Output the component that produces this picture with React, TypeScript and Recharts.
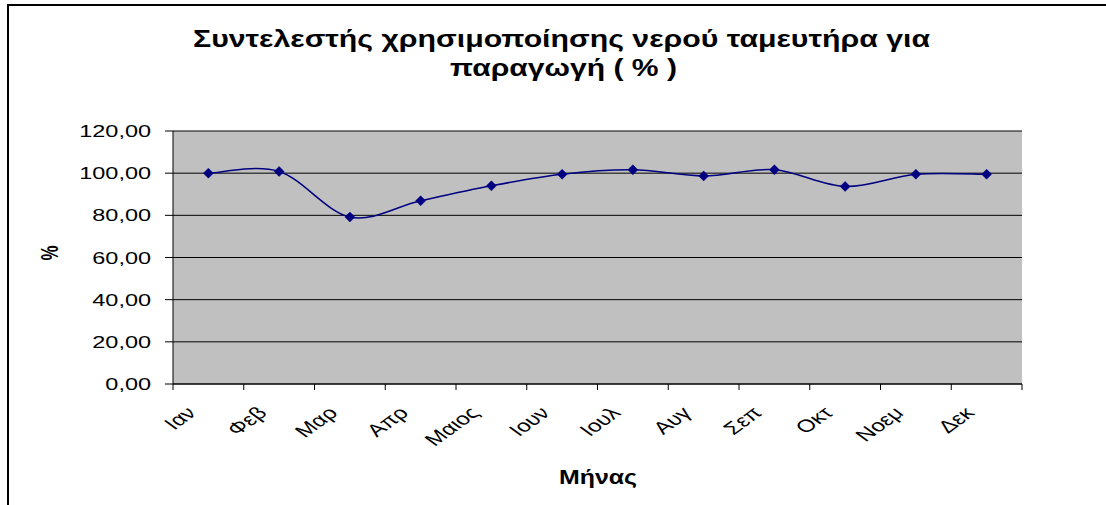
import React from 'react';
import { LineChart, Line, XAxis, YAxis, CartesianGrid } from 'recharts';

// ---- data ----
const months = ['Ιαν', 'Φεβ', 'Μαρ', 'Απρ', 'Μαιος', 'Ιουν', 'Ιουλ', 'Αυγ', 'Σεπ', 'Οκτ', 'Νοεμ', 'Δεκ'];
const utilisation = [100.0, 100.8, 79.2, 86.9, 94.0, 99.5, 101.6, 98.7, 101.6, 93.7, 99.5, 99.5];
const yTicks = [0, 20, 40, 60, 80, 100, 120];
const titleLines = ['Συντελεστής χρησιμοποίησης νερού ταμευτήρα για', 'παραγωγή ( % )'];
const xTitle = 'Μήνας';
const yTitle = '%';

const data = months.map((m, i) => ({ month: m, value: utilisation[i] }));

// ---- layout / style ----
const W = 1106;
const H = 505;
const PLOT_LEFT = 173;
const PLOT_RIGHT = 1022;
const PLOT_TOP = 131;
const PLOT_BOTTOM = 384;
const BAND = (PLOT_RIGHT - PLOT_LEFT) / months.length;
const FONT = '"Liberation Sans", Arial, sans-serif';
const SX = 1.38;
const NAVY = '#000080';

const fmt = (v: number) => v.toFixed(2).replace('.', ',');

// Excel-like smoothed line (Catmull-Rom through the points)
function excelSmooth(context: any) {
  let pts: number[][] = [];
  return {
    areaStart() {},
    areaEnd() {},
    lineStart() {
      pts = [];
    },
    point(x: number, y: number) {
      pts.push([+x, +y]);
    },
    lineEnd() {
      if (!pts.length) return;
      context.moveTo(pts[0][0], pts[0][1]);
      for (let i = 0; i < pts.length - 1; i++) {
        const p0 = pts[i - 1] || pts[i];
        const p1 = pts[i];
        const p2 = pts[i + 1];
        const p3 = pts[i + 2] || pts[i + 1];
        context.bezierCurveTo(
          p1[0] + (p2[0] - p0[0]) / 6,
          p1[1] + (p2[1] - p0[1]) / 6,
          p2[0] - (p3[0] - p1[0]) / 6,
          p2[1] - (p3[1] - p1[1]) / 6,
          p2[0],
          p2[1]
        );
      }
    },
  };
}

function XTick(props: any) {
  const { x, y, payload, index } = props;
  const left = x - BAND / 2;
  return (
    <g>
      <line x1={left} x2={left} y1={y} y2={y + 6} stroke="#000" strokeWidth={1} />
      {index === months.length - 1 && (
        <line x1={x + BAND / 2} x2={x + BAND / 2} y1={y} y2={y + 6} stroke="#000" strokeWidth={1} />
      )}
      <text
        transform={`translate(${x - 11},${y + 30}) scale(${SX},1) rotate(-45)`}
        textAnchor="end"
        fontSize={17.5}
        fontFamily={FONT}
        fill="#000"
      >
        {payload.value}
      </text>
    </g>
  );
}

function YTick(props: any) {
  const { x, y, payload } = props;
  return (
    <text
      transform={`translate(${x},${y}) scale(${SX},1)`}
      textAnchor="end"
      dy="0.36em"
      fontSize={17}
      fontFamily={FONT}
      fill="#000"
    >
      {fmt(payload.value)}
    </text>
  );
}

function Diamond(props: any) {
  const { cx, cy, index } = props;
  if (cx == null || cy == null) return <g key={`d${index}`} />;
  const r = 5;
  return (
    <polygon
      key={`d${index}`}
      points={`${cx},${cy - r} ${cx + r},${cy} ${cx},${cy + r} ${cx - r},${cy}`}
      fill={NAVY}
      stroke={NAVY}
      strokeWidth={0.5}
    />
  );
}

export default function App() {
  return (
    <div style={{ position: 'absolute', left: 0, top: 0, width: W, height: H, overflow: 'hidden', background: '#fff' }}>
      <div
        style={{
          position: 'absolute',
          left: 7,
          top: 4,
          width: 1200,
          height: 600,
          border: '2px solid #000',
          boxSizing: 'border-box',
        }}
      />
      <div style={{ position: 'absolute', left: 0, top: 0 }}>
        <LineChart
          width={W}
          height={H}
          data={data}
          margin={{ top: PLOT_TOP, right: W - PLOT_RIGHT, left: 0, bottom: 0 }}
        >
          <CartesianGrid vertical={false} stroke="#000" strokeWidth={1} fill="#C0C0C0" fillOpacity={1} />
          <XAxis
            dataKey="month"
            interval={0}
            height={H - PLOT_BOTTOM}
            padding={{ left: BAND / 2, right: BAND / 2 }}
            tickLine={false}
            tickSize={0}
            tickMargin={0}
            axisLine={{ stroke: '#000', strokeWidth: 1 }}
            tick={<XTick />}
          />
          <XAxis
            xAxisId="frameTop"
            dataKey="month"
            orientation="top"
            height={0}
            tick={false}
            tickLine={false}
            axisLine={{ stroke: '#808080', strokeWidth: 1.5 }}
          />
          <YAxis
            width={PLOT_LEFT}
            domain={[0, 120]}
            ticks={yTicks}
            interval={0}
            tickSize={8}
            tickMargin={14}
            tickLine={{ stroke: '#000', strokeWidth: 1 }}
            axisLine={{ stroke: '#000', strokeWidth: 1 }}
            tick={<YTick />}
          />
          <YAxis
            yAxisId="frameRight"
            orientation="right"
            width={0}
            domain={[0, 120]}
            tick={false}
            tickLine={false}
            axisLine={{ stroke: '#808080', strokeWidth: 1.5 }}
          />
          <Line
            dataKey="value"
            type={excelSmooth as any}
            stroke={NAVY}
            strokeWidth={1.5}
            dot={Diamond}
            activeDot={false}
            isAnimationActive={false}
          />
        </LineChart>
      </div>
      <svg
        width={W}
        height={H}
        style={{ position: 'absolute', left: 0, top: 0, pointerEvents: 'none' }}
      >
        <text
          x={561.5}
          y={47}
          textAnchor="middle"
          fontSize={23}
          fontWeight="bold"
          fontFamily={FONT}
          textLength={737}
          lengthAdjust="spacingAndGlyphs"
          fill="#000"
        >
          {titleLines[0]}
        </text>
        <text
          x={563.5}
          y={76}
          textAnchor="middle"
          fontSize={23}
          fontWeight="bold"
          fontFamily={FONT}
          textLength={227}
          lengthAdjust="spacingAndGlyphs"
          fill="#000"
        >
          {titleLines[1]}
        </text>
        <text
          x={598}
          y={484}
          textAnchor="middle"
          fontSize={20}
          fontWeight="bold"
          fontFamily={FONT}
          textLength={78}
          lengthAdjust="spacingAndGlyphs"
          fill="#000"
        >
          {xTitle}
        </text>
        <text
          transform={`translate(50,253) scale(${SX},1) rotate(-90)`}
          textAnchor="middle"
          dy="0.36em"
          fontSize={17}
          fontWeight="bold"
          fontFamily={FONT}
          fill="#000"
        >
          {yTitle}
        </text>
      </svg>
    </div>
  );
}
